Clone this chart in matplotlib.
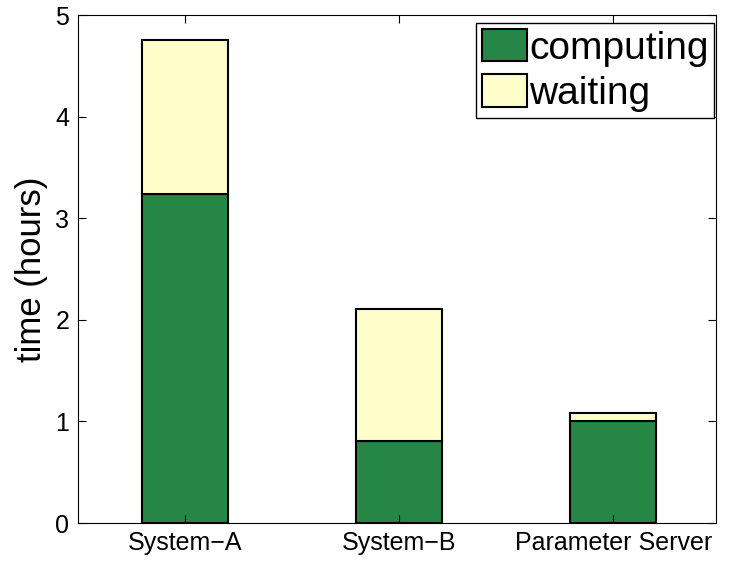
import matplotlib
matplotlib.use('Agg')
import matplotlib.pyplot as plt
import numpy as np

# ------ Data ------
systems = ['System\u2212A', 'System\u2212B', 'Parameter Server']
computing = [3.24, 0.81, 1.00]
waiting = [1.52, 1.30, 0.08]

green = '#268646'
yellow = '#FFFFCC'

plt.rcParams['font.family'] = ['Liberation Sans', 'DejaVu Sans']

# ------ Figure ------
fig = plt.figure(figsize=(7.33, 5.63), dpi=100)
ax = fig.add_axes([0.106, 0.071, 0.871, 0.902])

x = np.arange(1, len(systems) + 1)
ax.bar(x, computing, width=0.4, color=green, edgecolor='k', linewidth=1.5, label='computing')
ax.bar(x, waiting, bottom=computing, width=0.4, color=yellow, edgecolor='k', linewidth=1.5, label='waiting')

ax.set_xlim(0.5, 3.48)
ax.set_ylim(0, 5)
ax.set_xticks(x)
ax.set_xticklabels(systems)
ax.set_yticks(range(6))
ax.tick_params(direction='in', top=True, right=True, length=6, labelsize=18, pad=6)
ax.set_ylabel('time (hours)', fontsize=25, labelpad=5)

ax.legend(loc='upper right', bbox_to_anchor=(0.997, 0.984), fontsize=28, frameon=True,
          fancybox=False, edgecolor='k', handlelength=1.15, handleheight=0.9,
          handletextpad=0.05, borderpad=0.15, labelspacing=0.2, borderaxespad=0,
          framealpha=1)

fig.savefig('out.png', dpi=100)
